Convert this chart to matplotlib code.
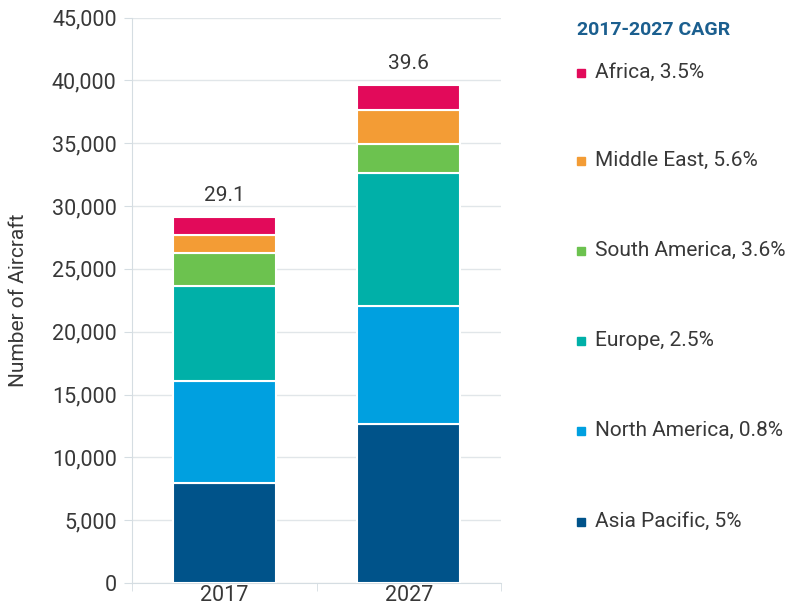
import numpy as np
import matplotlib.pyplot as plt
from matplotlib.lines import Line2D

years = ["2017", "2027"]
regions = ["Asia Pacific", "North America", "Europe", "South America", "Middle East", "Africa"]
cagr = ["5%", "0.8%", "2.5%", "3.6%", "5.6%", "3.5%"]
asia_pacific = [7930, 12650]
north_america = [8180, 9410]
europe = [7520, 10530]
south_america = [2620, 2360]
middle_east = [1470, 2680]
africa = [1380, 1970]

series = [asia_pacific, north_america, europe, south_america, middle_east, africa]
colors = ["#00538a", "#00a0e0", "#00b0a8", "#6cc24f", "#f39c35", "#e20a5a"]
txt = "#383838"

plt.rcParams.update({"font.family": ["Roboto", "DejaVu Sans"]})

W, H = 793, 605
fig = plt.figure(figsize=(W / 100, H / 100), dpi=100)
ax = fig.add_axes([132 / W, 22 / H, 369 / W, 565.5 / H])

x = np.arange(len(years))
bottom = np.zeros(len(years))
for vals, c in zip(series, colors):
    ax.bar(x, vals, 0.56, bottom=bottom, color=c, edgecolor="white",
           linewidth=1.5, zorder=3)
    bottom += np.array(vals)

for xi, tot in zip(x, bottom):
    ax.annotate(f"{tot/1000:.1f}", (xi, tot), xytext=(0, 9), textcoords="offset points",
                ha="center", va="bottom", fontsize=15, color=txt)

ax.set_xlim(-0.5, 1.5)
ax.set_ylim(0, 45000)
ax.set_yticks(np.arange(0, 45001, 5000))
ax.set_yticklabels([f"{v:,}" for v in range(0, 45001, 5000)])
ax.set_xticks(x)
ax.set_xticklabels(years)
ax.set_xticks([-0.5, 0.5, 1.5], minor=True)
ax.tick_params(axis="x", which="major", length=0, pad=1.5)
ax.tick_params(axis="x", which="minor", length=6, color="#d5dde2")
ax.tick_params(axis="y", length=6, color="#d5dde2", pad=5)
ax.tick_params(labelsize=15.5, labelcolor=txt)

ax.grid(axis="y", color="#e1e6e9", linewidth=1, zorder=0)
for s in ["top", "right"]:
    ax.spines[s].set_visible(False)
for s in ["left", "bottom"]:
    ax.spines[s].set_color("#d5dde2")

ax.set_ylabel("Number of Aircraft", fontsize=15, color=txt)
ax.yaxis.set_label_coords(-0.282, 0.5)

# legend drawn by hand, top item first
fig.text(577 / W, 1 - 30 / H, "2017-2027 CAGR", fontsize=14, fontweight="bold",
         color="#1b5f8f", ha="left", va="center")
ys = [73, 161, 251, 341, 431, 522]
for yp, reg, g, c in zip(ys, regions[::-1], cagr[::-1], colors[::-1]):
    fig.add_artist(Line2D([581 / W], [1 - yp / H], marker="s", markersize=5.5,
                          color=c, linestyle="none", transform=fig.transFigure))
    fig.text(595 / W, 1 - (yp + 5) / H, f"{reg}, {g}", fontsize=15, color=txt,
             ha="left", va="baseline")

plt.savefig("out.png", dpi=100)
